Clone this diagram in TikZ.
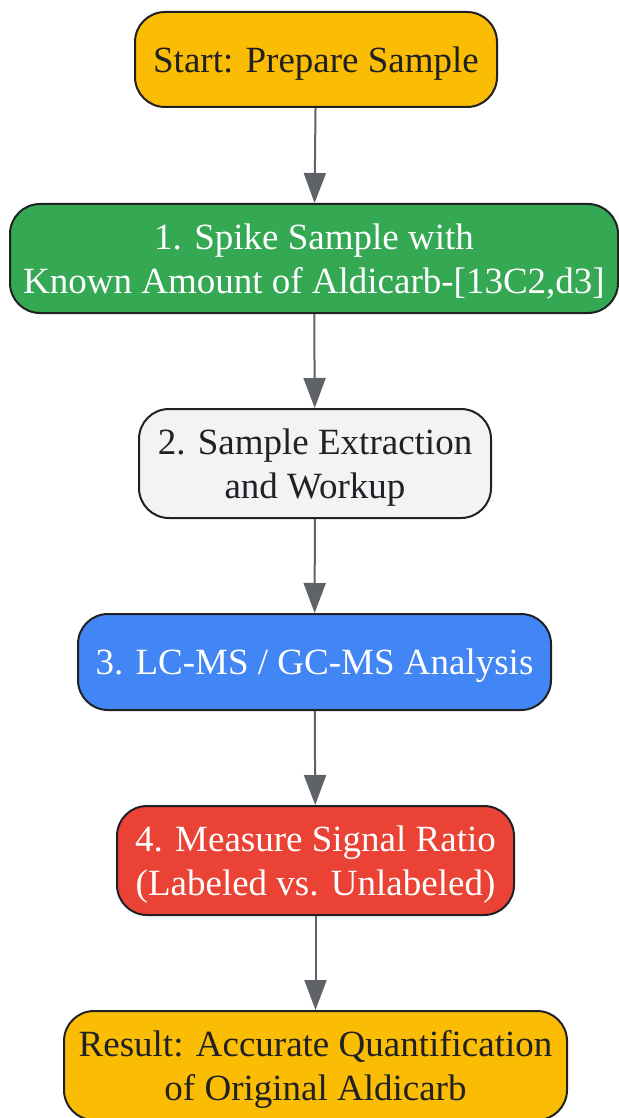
\documentclass[tikz,border=0pt]{standalone}
\usepackage{fontspec}
\setmainfont{Liberation Serif}
\usetikzlibrary{arrows.meta}

\definecolor{amarillo}{HTML}{FBBC04}
\definecolor{verde}{HTML}{34A853}
\definecolor{gris}{HTML}{F1F3F4}
\definecolor{azul}{HTML}{4285F4}
\definecolor{rojo}{HTML}{EA4335}
\definecolor{tinta}{HTML}{202124}
\definecolor{flecha}{HTML}{5F6368}

\begin{document}
\begin{tikzpicture}[x=0.5pt,y=-0.5pt,
    paso/.style={draw=tinta,line width=1pt,rounded corners=15pt,align=center,
        inner sep=0pt,text depth=0pt,font=\fontsize{18.5}{22}\selectfont},
    flechita/.style={draw=flecha,line width=1pt,-{Triangle[length=15pt,width=11pt]}}
    ]
    \useasboundingbox (0,0) rectangle (619,1118);
    
    \node[paso,fill=amarillo,text=tinta,minimum width=181pt,minimum height=47.5pt] (inicio) at (316,59.5) {Start: Prepare Sample};
    \node[paso,fill=verde,text=white,minimum width=304pt,minimum height=54.5pt] (spike) at (314,258.5) {1. Spike Sample with\\Known Amount of Aldicarb-[13C2,d3]};
    \node[paso,fill=gris,text=tinta,minimum width=176pt,minimum height=54.5pt] (extrac) at (315,463.5) {2. Sample Extraction\\and Workup};
    \node[paso,fill=azul,text=white,minimum width=236.5pt,minimum height=48pt] (analisis) at (314.5,662) {3. LC-MS / GC-MS Analysis};
    \node[paso,fill=rojo,text=white,minimum width=198.5pt,minimum height=54.5pt] (ratio) at (315.5,860.5) {4. Measure Signal Ratio\\(Labeled vs. Unlabeled)};
    \node[paso,fill=amarillo,text=tinta,minimum width=251.5pt,minimum height=54.5pt] (result) at (315.5,1065.5) {Result: Accurate Quantification\\of Original Aldicarb};
    
    %flechas
    \draw[flechita] (inicio) -- (spike);
    \draw[flechita] (spike) -- (extrac);
    \draw[flechita] (extrac) -- (analisis);
    \draw[flechita] (analisis) -- (ratio);
    \draw[flechita] (ratio) -- (result);
    
\end{tikzpicture}
\end{document}
